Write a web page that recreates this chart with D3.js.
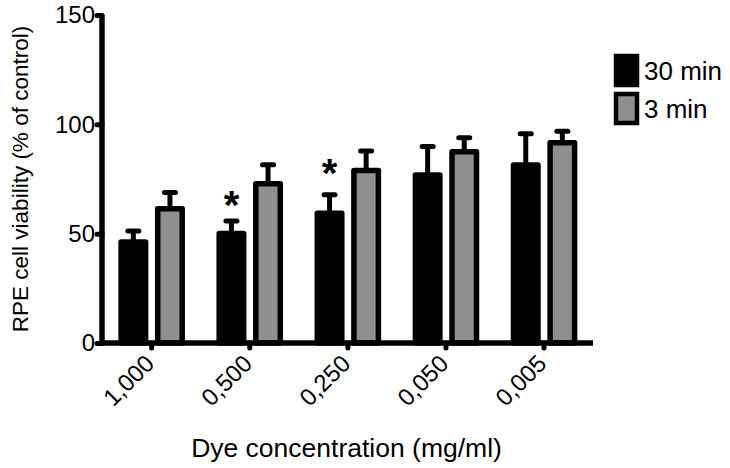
<!DOCTYPE html>
<html>
<head>
<meta charset="utf-8">
<script src="https://cdn.jsdelivr.net/npm/d3@7"></script>
<style>
  html, body { margin: 0; padding: 0; background: #fff; }
  svg { display: block; font-family: "Liberation Sans", Arial, Helvetica, sans-serif; }
</style>
</head>
<body>
<svg id="chart" width="730" height="468"></svg>
<script>
// ---- data ----
const categories = ["1,000", "0,500", "0,250", "0,050", "0,005"];
const seriesNames = ["30 min", "3 min"];
const values30 = [46.2, 50.1, 59.3, 76.8, 81.4];
const errors30 = [5.0, 5.7, 8.5, 13.1, 14.3];
const values3 = [61.4, 72.8, 78.9, 87.5, 91.6];
const errors3 = [7.4, 8.7, 8.9, 6.4, 5.2];
const yTicks = [0, 50, 100, 150];
const starCategories = ["0,500", "0,250"];
const starValues = [66.8, 81.6];
const yTitle = "RPE cell viability (% of control)";
const xTitle = "Dye concentration (mg/ml)";

// ---- layout ----
const svg = d3.select("#chart");
const colors = { "30 min": "#000000", "3 min": "#8f8f8f" };
const sw = 5.5;

const y = d3.scaleLinear().domain([0, 150]).range([343, 15]);
const x = d3.scaleBand().domain(categories).range([102.6, 593.1]).padding(0);
const xs = d3.scalePoint().domain(seriesNames)
  .range([x.bandwidth() / 2 - 18.3, x.bandwidth() / 2 + 18.3]);
const barW = 24.5;

const rows = [];
categories.forEach((c, i) => {
  rows.push({ cat: c, s: "30 min", v: values30[i], e: errors30[i] });
  rows.push({ cat: c, s: "3 min", v: values3[i], e: errors3[i] });
});

const g = svg.append("g");

// error bars (drawn first, bar covers lower part)
const eb = g.selectAll(".err").data(rows).enter().append("g").attr("class", "err");
eb.append("line")
  .attr("x1", d => x(d.cat) + xs(d.s)).attr("x2", d => x(d.cat) + xs(d.s))
  .attr("y1", d => y(d.v)).attr("y2", d => y(d.v + d.e))
  .attr("stroke", "#000").attr("stroke-width", 5);
eb.append("line")
  .attr("x1", d => x(d.cat) + xs(d.s) - 5.5).attr("x2", d => x(d.cat) + xs(d.s) + 5.5)
  .attr("y1", d => y(d.v + d.e)).attr("y2", d => y(d.v + d.e))
  .attr("stroke", "#000").attr("stroke-width", 5).attr("stroke-linecap", "round");

// bars
g.selectAll(".bar").data(rows).enter().append("rect")
  .attr("x", d => x(d.cat) + xs(d.s) - barW / 2)
  .attr("width", barW)
  .attr("y", d => y(d.v))
  .attr("height", d => y(0) - y(d.v))
  .attr("fill", d => colors[d.s])
  .attr("stroke", "#000").attr("stroke-width", sw).attr("stroke-linejoin", "round");

// stars
g.selectAll(".star").data(starCategories).enter().append("text")
  .attr("x", d => x(d) + xs("30 min"))
  .attr("y", (d, i) => y(starValues[i]) + 22)
  .attr("text-anchor", "middle")
  .attr("font-size", 40).attr("font-weight", "bold")
  .text("*");

// y axis
const yAxis = g.append("g").attr("transform", "translate(102,0)")
  .call(d3.axisLeft(y).tickValues(yTicks).tickSize(7).tickPadding(2));
yAxis.select(".domain").attr("d", `M0,${y(150)}V${y(0) + 2.5}`)
  .attr("stroke-width", 5.5).attr("stroke", "#000");
yAxis.selectAll(".tick line").attr("stroke-width", 5).attr("stroke-linecap", "round").attr("x2", -5);
yAxis.selectAll(".tick text").attr("font-size", 24).attr("fill", "#000")
  .attr("font-family", "Liberation Sans, Arial, sans-serif").attr("x", -7);

// x axis
const xAxis = g.append("g").attr("transform", `translate(0,${y(0)})`)
  .call(d3.axisBottom(x).tickSize(7).tickPadding(0));
xAxis.select(".domain").attr("d", `M100,0H593`).attr("stroke-width", 5.5).attr("stroke", "#000");
xAxis.selectAll(".tick line").attr("stroke-width", 5).attr("stroke-linecap", "round").attr("y2", 5);
xAxis.selectAll(".tick text")
  .attr("font-size", 24).attr("fill", "#000")
  .attr("font-family", "Liberation Sans, Arial, sans-serif")
  .attr("text-anchor", "end")
  .attr("dy", null)
  .attr("y", 0)
  .attr("transform", "translate(4,22) rotate(-45)");

// axis titles
svg.append("text")
  .attr("transform", `translate(28,${(y(0) + y(150)) / 2}) rotate(-90)`)
  .attr("text-anchor", "middle").attr("font-size", 22.5).text(yTitle);
svg.append("text")
  .attr("x", (100 + 593) / 2).attr("y", 457)
  .attr("text-anchor", "middle").attr("font-size", 26.5).text(xTitle);

// legend
const leg = svg.append("g").attr("transform", "translate(616,56)");
seriesNames.forEach((s, i) => {
  leg.append("rect").attr("x", 0).attr("y", i * 38).attr("width", 21).attr("height", 29)
    .attr("fill", colors[s]).attr("stroke", "#000").attr("stroke-width", 4.5);
  leg.append("text").attr("x", 28).attr("y", i * 38 + 24)
    .attr("font-size", 26).text(s);
});
</script>
</body>
</html>
